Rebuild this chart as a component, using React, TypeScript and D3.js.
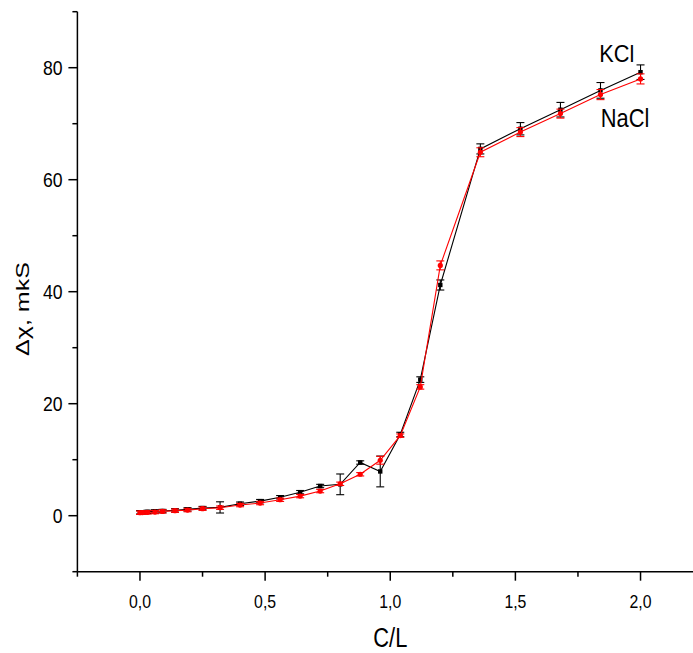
import React from "react";
import * as d3 from "d3";

const cRatio = [0, 0.01, 0.03, 0.06, 0.09, 0.14, 0.19, 0.25, 0.32, 0.4, 0.48, 0.56, 0.64, 0.72, 0.8, 0.88, 0.96, 1.04, 1.12, 1.2, 1.36, 1.52, 1.68, 1.84, 2.0];
const kclValues = [0.6, 0.62, 0.68, 0.77, 0.83, 0.95, 1.13, 1.36, 1.48, 2.14, 2.6, 3.3, 4.2, 5.3, 5.6, 9.5, 7.9, 14.5, 24.3, 41.2, 65.5, 69.1, 72.5, 75.95, 79.2];
const kclErrors = [0.3, 0.3, 0.3, 0.3, 0.3, 0.3, 0.3, 0.3, 1.0, 0.3, 0.3, 0.3, 0.3, 0.3, 1.85, 0.3, 2.75, 0.4, 0.5, 0.9, 0.9, 1.1, 1.3, 1.4, 1.3];
const naclValues = [0.53, 0.55, 0.6, 0.65, 0.77, 0.89, 1.0, 1.25, 1.43, 1.9, 2.26, 2.85, 3.5, 4.4, 5.7, 7.4, 9.9, 14.3, 23.0, 44.7, 64.9, 68.5, 71.8, 75.2, 78.0];
const naclErrors = [0.3, 0.3, 0.3, 0.3, 0.3, 0.3, 0.3, 0.3, 0.3, 0.3, 0.3, 0.3, 0.3, 0.3, 0.3, 0.3, 0.7, 0.3, 0.4, 0.8, 0.8, 0.8, 0.8, 0.9, 0.9];

const xMajorTicks = [0, 0.5, 1.0, 1.5, 2.0];
const xMinorTicks = [-0.25, 0.25, 0.75, 1.25, 1.75, 2.25];
const xTickLabels = ["0,0", "0,5", "1,0", "1,5", "2,0"];
const yMajorTicks = [0, 20, 40, 60, 80];
const yMinorTicks = [-10, 10, 30, 50, 70, 90];
const yTickLabels = ["0", "20", "40", "60", "80"];

const seriesNames = ["KCl", "NaCl"];
const xTitle = "C/L";
const yTitle = "Δχ, mkS";

const W = 693;
const H = 653;
const FONT = "'Liberation Sans', Arial, sans-serif";

export default function App() {
  const x = d3.scaleLinear().domain([-0.25, 2.25]).range([77.4, 703.1]);
  const y = d3.scaleLinear().domain([-10, 90]).range([571.7, 11.7]);

  const line = d3
    .line<[number, number]>()
    .x((d) => x(d[0]))
    .y((d) => y(d[1]));

  const series = [
    { name: seriesNames[0], values: kclValues, errors: kclErrors, color: "#000000", marker: "square" },
    { name: seriesNames[1], values: naclValues, errors: naclErrors, color: "#ff0000", marker: "circle" },
  ];

  const axisY = y(-10);
  const axisX = x(-0.25);

  return (
    <div style={{ position: "absolute", left: 0, top: 0, width: W, height: H, background: "#fff" }}>
      <svg width={W} height={H} style={{ display: "block", overflow: "hidden" }} fontFamily={FONT}>
        <rect x={0} y={0} width={W} height={H} fill="#fff" />
        {series.map((s) => {
          const pts: [number, number][] = cRatio.map((c, i) => [c, s.values[i]]);
          return (
            <g key={s.name}>
              <path d={line(pts) || ""} fill="none" stroke={s.color} strokeWidth={1.1} />
              {pts.map((p, i) => {
                const cx = x(p[0]);
                const top = y(p[1] + s.errors[i]);
                const bot = y(p[1] - s.errors[i]);
                return (
                  <g key={i} stroke={s.color} strokeWidth={1.1}>
                    <line x1={cx} x2={cx} y1={top} y2={bot} />
                    <line x1={cx - 4} x2={cx + 4} y1={top} y2={top} />
                    <line x1={cx - 4} x2={cx + 4} y1={bot} y2={bot} />
                  </g>
                );
              })}
              {pts.map((p, i) =>
                s.marker === "square" ? (
                  <rect key={"m" + i} x={x(p[0]) - 2.2} y={y(p[1]) - 2.2} width={4.4} height={4.4} fill={s.color} />
                ) : (
                  <circle key={"m" + i} cx={x(p[0])} cy={y(p[1])} r={2.6} fill={s.color} />
                )
              )}
            </g>
          );
        })}

        {/* axes */}
        <g stroke="#000" strokeWidth={1.5} fill="none">
          <line x1={axisX} x2={W + 5} y1={axisY} y2={axisY} />
          <line x1={axisX} x2={axisX} y1={y(90)} y2={axisY} />
          {xMajorTicks.map((t) => (
            <line key={"xM" + t} x1={x(t)} x2={x(t)} y1={axisY} y2={axisY + 9} />
          ))}
          {xMinorTicks.map((t) => (
            <line key={"xm" + t} x1={x(t)} x2={x(t)} y1={axisY} y2={axisY + 5} />
          ))}
          {yMajorTicks.map((t) => (
            <line key={"yM" + t} x1={axisX - 9} x2={axisX} y1={y(t)} y2={y(t)} />
          ))}
          {yMinorTicks.map((t) => (
            <line key={"ym" + t} x1={axisX - 5} x2={axisX} y1={y(t)} y2={y(t)} />
          ))}
        </g>

        {xMajorTicks.map((t, i) => (
          <text
            key={"xl" + t}
            x={x(t)}
            y={607.5}
            fontSize={18}
            textAnchor="middle"
            textLength={22}
            lengthAdjust="spacingAndGlyphs"
            fill="#000"
          >
            {xTickLabels[i]}
          </text>
        ))}
        {yMajorTicks.map((t, i) => (
          <text
            key={"yl" + t}
            x={62.5}
            y={y(t) + 7}
            fontSize={19.5}
            textAnchor="end"
            textLength={yTickLabels[i].length * 9.8}
            lengthAdjust="spacingAndGlyphs"
            fill="#000"
          >
            {yTickLabels[i]}
          </text>
        ))}

        <text x={390.3} y={646.5} fontSize={27} textAnchor="middle" textLength={34} lengthAdjust="spacingAndGlyphs" fill="#000">
          {xTitle}
        </text>
        <text
          transform={`translate(28.5, 309) rotate(-90)`}
          fontSize={19}
          textAnchor="middle"
          textLength={94}
          lengthAdjust="spacingAndGlyphs"
          fill="#000"
        >
          {yTitle}
        </text>

        <text x={599.3} y={62.3} fontSize={24} textLength={35} lengthAdjust="spacingAndGlyphs" fill="#000">
          {seriesNames[0]}
        </text>
        <text x={600.7} y={126.7} fontSize={25} textLength={48.6} lengthAdjust="spacingAndGlyphs" fill="#000">
          {seriesNames[1]}
        </text>
      </svg>
    </div>
  );
}
